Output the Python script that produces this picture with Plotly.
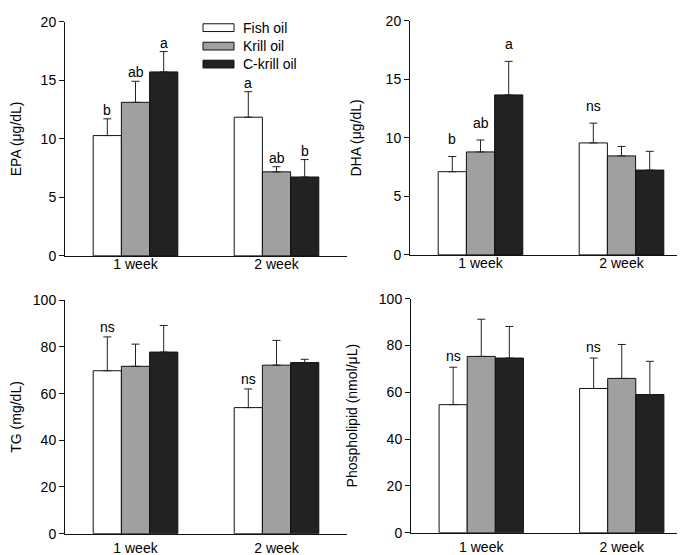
import plotly.graph_objects as go

categories = ["1 week", "2 week"]
series = ["Fish oil", "Krill oil", "C-krill oil"]
colors = ["#ffffff", "#a0a0a0", "#222222"]

# EPA (μg/dL)
epa_mean = {"Fish oil": [10.28, 11.85], "Krill oil": [13.12, 7.18], "C-krill oil": [15.72, 6.74]}
epa_sd = {"Fish oil": [1.43, 2.18], "Krill oil": [1.80, 0.44], "C-krill oil": [1.74, 1.49]}
epa_lbl = {"Fish oil": ["b", "a"], "Krill oil": ["ab", "ab"], "C-krill oil": ["a", "b"]}

# DHA (μg/dL)
dha_mean = {"Fish oil": [7.11, 9.57], "Krill oil": [8.80, 8.46], "C-krill oil": [13.67, 7.25]}
dha_sd = {"Fish oil": [1.30, 1.69], "Krill oil": [1.02, 0.81], "C-krill oil": [2.87, 1.60]}
dha_lbl = {"Fish oil": ["b", "ns"], "Krill oil": ["ab", ""], "C-krill oil": ["a", ""]}

# TG (mg/dL)
tg_mean = {"Fish oil": [69.8, 54.0], "Krill oil": [71.7, 72.2], "C-krill oil": [77.8, 73.3]}
tg_sd = {"Fish oil": [14.5, 8.0], "Krill oil": [9.5, 10.6], "C-krill oil": [11.4, 1.4]}
tg_lbl = {"Fish oil": ["ns", "ns"], "Krill oil": ["", ""], "C-krill oil": ["", ""]}

# Phospholipid (nmol/μL)
pl_mean = {"Fish oil": [54.7, 61.6], "Krill oil": [75.3, 65.9], "C-krill oil": [74.6, 59.0]}
pl_sd = {"Fish oil": [16.0, 13.0], "Krill oil": [15.9, 14.5], "C-krill oil": [13.5, 14.2]}
pl_lbl = {"Fish oil": ["ns", "ns"], "Krill oil": ["", ""], "C-krill oil": ["", ""]}

W, H = 685, 555
FONT = "Liberation Sans, Arial, sans-serif"
FS = 14

panels = [
    # (mean, sd, labels, ytitle, ymax, dtick, x0,x1 px, ytop,ybottom px, label shift px, title standoff, xlabel standoff)
    (epa_mean, epa_sd, epa_lbl, "EPA (μg/dL)", 20, 5, 57, 339, 6, 247, 9, 20, -5),
    (dha_mean, dha_sd, dha_lbl, "DHA (μg/dL)", 20, 5, 402, 684, 5, 246, 17, 20, -5),
    (tg_mean, tg_sd, tg_lbl, "TG (mg/dL)", 100, 20, 57, 339, 292.7, 533, 10, 11, 2),
    (pl_mean, pl_sd, pl_lbl, "Phospholipid (nmol/μL)", 100, 20, 403, 684, 291, 532, 11, 17, 2),
]

fig = go.Figure()
annotations = []
shapes = []
offsets = [-0.2, 0.0, 0.2]

for i, (mean, sd, lbl, ytitle, ymax, dtick, x0, x1, yt, yb, shift, stand, xstand) in enumerate(panels):
    n = "" if i == 0 else str(i + 1)
    xa, ya = "x" + n, "y" + n
    for k, s in enumerate(series):
        fig.add_trace(go.Bar(
            x=categories, y=mean[s], name=s, xaxis=xa, yaxis=ya,
            marker=dict(color=colors[k], line=dict(color="#111111", width=1)),
            error_y=dict(type="data", symmetric=False, array=sd[s], arrayminus=[0, 0],
                         color="#222222", thickness=1, width=4),
            showlegend=False, legendgroup=s,
        ))
        for j in range(len(categories)):
            if lbl[s][j]:
                annotations.append(dict(
                    x=j + offsets[k], y=mean[s][j] + sd[s][j], xref=xa, yref=ya,
                    text=lbl[s][j], showarrow=False, yanchor="middle", yshift=shift,
                    font=dict(size=FS, family=FONT, color="black"),
                ))
    fig.layout["xaxis" + n] = dict(
        domain=[x0 / W, x1 / W], anchor=ya, range=[-0.5, 1.5], type="category",
        showline=True, linecolor="#111111", linewidth=1, ticks="", showgrid=False,
        ticklabelstandoff=xstand, tickfont=dict(size=FS, family=FONT, color="black"),
    )
    fig.layout["yaxis" + n] = dict(
        domain=[1 - yb / H, 1 - yt / H], anchor=xa, range=[0, ymax], dtick=dtick,
        showline=True, linecolor="#111111", linewidth=1, ticks="outside", ticklen=5,
        tickcolor="#111111", showgrid=False, zeroline=False,
        tickfont=dict(size=FS, family=FONT, color="black"),
        title=dict(text=ytitle, font=dict(size=FS, family=FONT, color="black"), standoff=stand),
    )

# manual legend (wide rectangles as in the reference)
leg_rows = [12, 31, 49.5]
for k, s in enumerate(series):
    cy = leg_rows[k]
    shapes.append(dict(type="rect", xref="paper", yref="paper",
                       x0=195 / W, x1=226 / W, y0=1 - (cy + 4) / H, y1=1 - (cy - 4) / H,
                       fillcolor=colors[k], line=dict(color="#111111", width=1)))
    annotations.append(dict(x=233 / W, y=1 - cy / H, xref="paper", yref="paper",
                            text=s, showarrow=False, xanchor="left", yanchor="middle",
                            font=dict(size=FS, family=FONT, color="black")))

fig.update_layout(
    width=W, height=H, margin=dict(l=0, r=0, t=0, b=0),
    paper_bgcolor="white", plot_bgcolor="white",
    barmode="group", bargap=0.4, bargroupgap=0,
    annotations=annotations, shapes=shapes,
    font=dict(family=FONT, size=FS, color="black"),
)

fig.write_html("out.html")
